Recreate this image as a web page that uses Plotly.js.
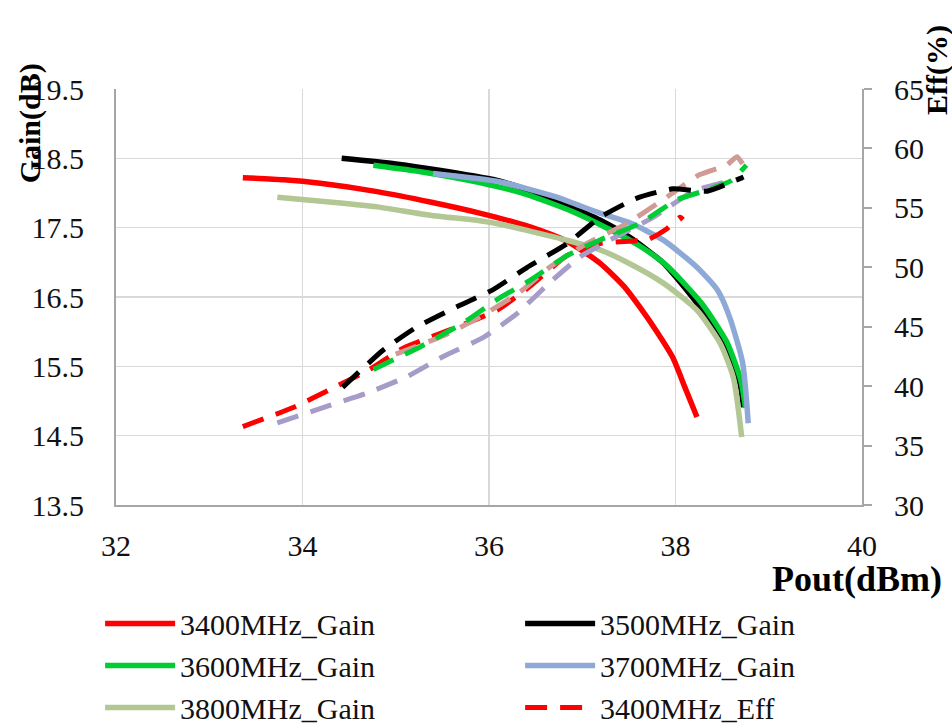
<!DOCTYPE html>
<html>
<head>
<meta charset="utf-8">
<script src="https://cdn.plot.ly/plotly-3.0.1.min.js"></script>
<style>html,body{margin:0;padding:0;background:#fff;}#chart{width:952px;height:725px;}</style>
</head>
<body>
<div id="chart"></div>
<script>
// Gain curves (left axis, dB) vs Pout (dBm)
const g3400_x = [33.36, 33.8, 34.19, 34.8, 35.37, 35.9, 36.44, 36.84, 37.19, 37.45, 37.62, 37.8, 37.97, 38.1, 38.23];
const g3400_y = [18.22, 18.19, 18.14, 18.02, 17.87, 17.71, 17.51, 17.30, 16.99, 16.65, 16.35, 16.0, 15.63, 15.2, 14.77];
const g3500_x = [34.42, 35.0, 35.5, 36.12, 36.6, 37.19, 37.51, 37.87, 38.23, 38.51, 38.69, 38.73];
const g3500_y = [18.50, 18.42, 18.32, 18.17, 17.95, 17.61, 17.36, 16.99, 16.41, 15.83, 15.26, 14.91];
const g3600_x = [34.76, 35.3, 35.9, 36.4, 36.9, 37.3, 37.6, 37.9, 38.28, 38.55, 38.7, 38.75];
const g3600_y = [18.40, 18.30, 18.15, 17.98, 17.73, 17.47, 17.25, 16.96, 16.41, 15.85, 15.3, 14.9];
const g3700_x = [35.4, 36.12, 36.7, 37.19, 37.51, 37.87, 38.23, 38.45, 38.58, 38.72, 38.78];
const g3700_y = [18.28, 18.16, 17.95, 17.71, 17.57, 17.32, 16.93, 16.6, 16.21, 15.55, 14.68];
const g3800_x = [33.73, 34.29, 34.8, 35.37, 35.9, 36.12, 36.44, 36.8, 37.19, 37.51, 37.87, 38.23, 38.48, 38.62, 38.71];
const g3800_y = [17.94, 17.87, 17.80, 17.68, 17.60, 17.55, 17.45, 17.33, 17.18, 16.98, 16.70, 16.31, 15.83, 15.34, 14.48];

// Efficiency curves (right axis, %) vs Pout (dBm)
const e3400_x = [33.36, 33.9, 34.29, 34.72, 35.08, 35.6, 36.09, 36.44, 36.84, 37.19, 37.5, 37.7, 37.9, 38.05, 38.08];
const e3400_y = [36.6, 38.2, 39.7, 41.4, 43.2, 44.8, 46.4, 48.4, 51.0, 52.0, 52.2, 52.3, 53.2, 54.2, 54.0];
const e3500_x = [34.43, 34.86, 35.23, 35.66, 36.04, 36.41, 36.84, 37.19, 37.58, 37.97, 38.34, 38.73];
const e3500_y = [39.9, 43.0, 45.0, 46.7, 48.1, 50.0, 52.0, 54.2, 55.8, 56.6, 56.4, 57.6];
const e3600_x = [34.76, 35.26, 35.72, 36.09, 36.44, 36.84, 37.19, 37.62, 38.02, 38.34, 38.6, 38.76];
const e3600_y = [41.4, 43.3, 45.3, 47.3, 48.9, 51.0, 52.3, 53.7, 55.7, 56.5, 57.3, 58.6];
const e3700_x = [35.0, 35.53, 35.92, 36.33, 36.65, 37.05, 37.48, 37.87, 38.26, 38.55, 38.66, 38.72];
const e3700_y = [42.7, 44.3, 45.9, 47.9, 50.0, 52.0, 53.7, 55.7, 57.8, 58.6, 59.3, 58.7];
const e3800_x = [33.73, 34.26, 34.69, 35.12, 35.51, 35.94, 36.30, 36.65, 36.98, 37.37, 37.76, 38.19, 38.45, 38.72];
const e3800_y = [36.9, 38.3, 39.4, 40.8, 42.5, 44.1, 46.1, 48.7, 50.9, 52.6, 54.2, 56.4, 57.0, 57.5];

const names = ['3400MHz_Gain', '3500MHz_Gain', '3600MHz_Gain', '3700MHz_Gain', '3800MHz_Gain',
               '3400MHz_Eff', '3500MHz_Eff', '3600MHz_Eff', '3700MHz_Eff', '3800MHz_Eff'];

const FONT = 'Liberation Serif, Times New Roman, serif';
const DASH = '22px,13px';

function gain(x, y, name, color, leg) {
  return {x: x, y: y, name: name, type: 'scatter', mode: 'lines', xaxis: 'x', yaxis: 'y', legend: leg,
          line: {color: color, width: 5.5, shape: 'spline', smoothing: 0.6}};
}
function eff(x, y, name, color, show, leg) {
  return {x: x, y: y, name: name, type: 'scatter', mode: 'lines', xaxis: 'x', yaxis: 'y2', legend: leg,
          showlegend: show, line: {color: color, width: 5, dash: DASH, shape: 'spline', smoothing: 0.5}};
}

const data = [
  gain(g3400_x, g3400_y, names[0], '#FF0000', 'legend'),
  gain(g3500_x, g3500_y, names[1], '#000000', 'legend2'),
  gain(g3600_x, g3600_y, names[2], '#00CC33', 'legend'),
  gain(g3700_x, g3700_y, names[3], '#8EA9D6', 'legend2'),
  gain(g3800_x, g3800_y, names[4], '#B2C793', 'legend'),
  eff(e3400_x, e3400_y, names[5], '#FF0000', true, 'legend2'),
  eff(e3800_x, e3800_y, names[9], '#A79CC8', false, 'legend'),
  eff(e3700_x, e3700_y, names[8], '#D29A94', false, 'legend'),
  eff(e3600_x, e3600_y, names[7], '#00CC33', false, 'legend'),
  eff(e3500_x, e3500_y, names[6], '#000000', false, 'legend')
];

const legendBase = {
  orientation: 'v', y: -0.2226, yanchor: 'top', xanchor: 'left', itemwidth: 70,
  tracegroupgap: 0, font: {family: FONT, size: 30, color: '#111111'}, bgcolor: 'rgba(0,0,0,0)'
};

const layout = {
  width: 952, height: 725,
  margin: {l: 116, r: 90, t: 89, b: 220, pad: 0, autoexpand: false},
  paper_bgcolor: '#ffffff', plot_bgcolor: '#ffffff',
  font: {family: FONT, size: 30, color: '#111111'},
  showlegend: true,
  xaxis: {
    range: [32, 40], dtick: 2, tick0: 32, showgrid: true, gridcolor: '#d9d9d9', gridwidth: 1.5,
    zeroline: false, showline: true, linecolor: '#a6a6a6', linewidth: 2, ticks: '',
    ticklabelstandoff: 13, tickfont: {family: FONT, size: 30, color: '#111111'}
  },
  yaxis: {
    range: [13.5, 19.5], dtick: 1, tick0: 13.5, showgrid: true, gridcolor: '#d9d9d9', gridwidth: 1.5,
    zeroline: false, showline: true, linecolor: '#a6a6a6', linewidth: 2, ticks: '',
    tickformat: '.1f', ticklabelstandoff: 24, tickfont: {family: FONT, size: 30, color: '#111111'}
  },
  yaxis2: {
    range: [30, 65], dtick: 5, tick0: 30, overlaying: 'y', side: 'right', showgrid: false,
    zeroline: false, showline: true, linecolor: '#a6a6a6', linewidth: 2,
    ticks: 'outside', ticklen: 8, tickcolor: '#a6a6a6', tickwidth: 2,
    ticklabelstandoff: 16, tickfont: {family: FONT, size: 30, color: '#111111'}
  },
  legend: Object.assign({}, legendBase, {x: -0.0213}),
  legend2: Object.assign({}, legendBase, {x: 0.5417}),
  annotations: [
    {text: '<b>Gain(dB)</b>', xref: 'paper', yref: 'paper', x: -0.115, y: 0.918, textangle: -90,
     showarrow: false, xanchor: 'center', yanchor: 'middle', font: {family: FONT, size: 30, color: '#000'}},
    {text: '<b>Eff(%)</b>', xref: 'paper', yref: 'paper', x: 1.1005, y: 1.0457, textangle: -90,
     showarrow: false, xanchor: 'center', yanchor: 'middle', font: {family: FONT, size: 30, color: '#000'}},
    {text: '<b>Pout(dBm)</b>', xref: 'paper', yref: 'paper', x: 0.993, y: -0.1779,
     showarrow: false, xanchor: 'center', yanchor: 'middle', font: {family: FONT, size: 36, color: '#000'}}
  ]
};

Plotly.newPlot('chart', data, layout, {displayModeBar: false, staticPlot: true});
</script>
</body>
</html>
